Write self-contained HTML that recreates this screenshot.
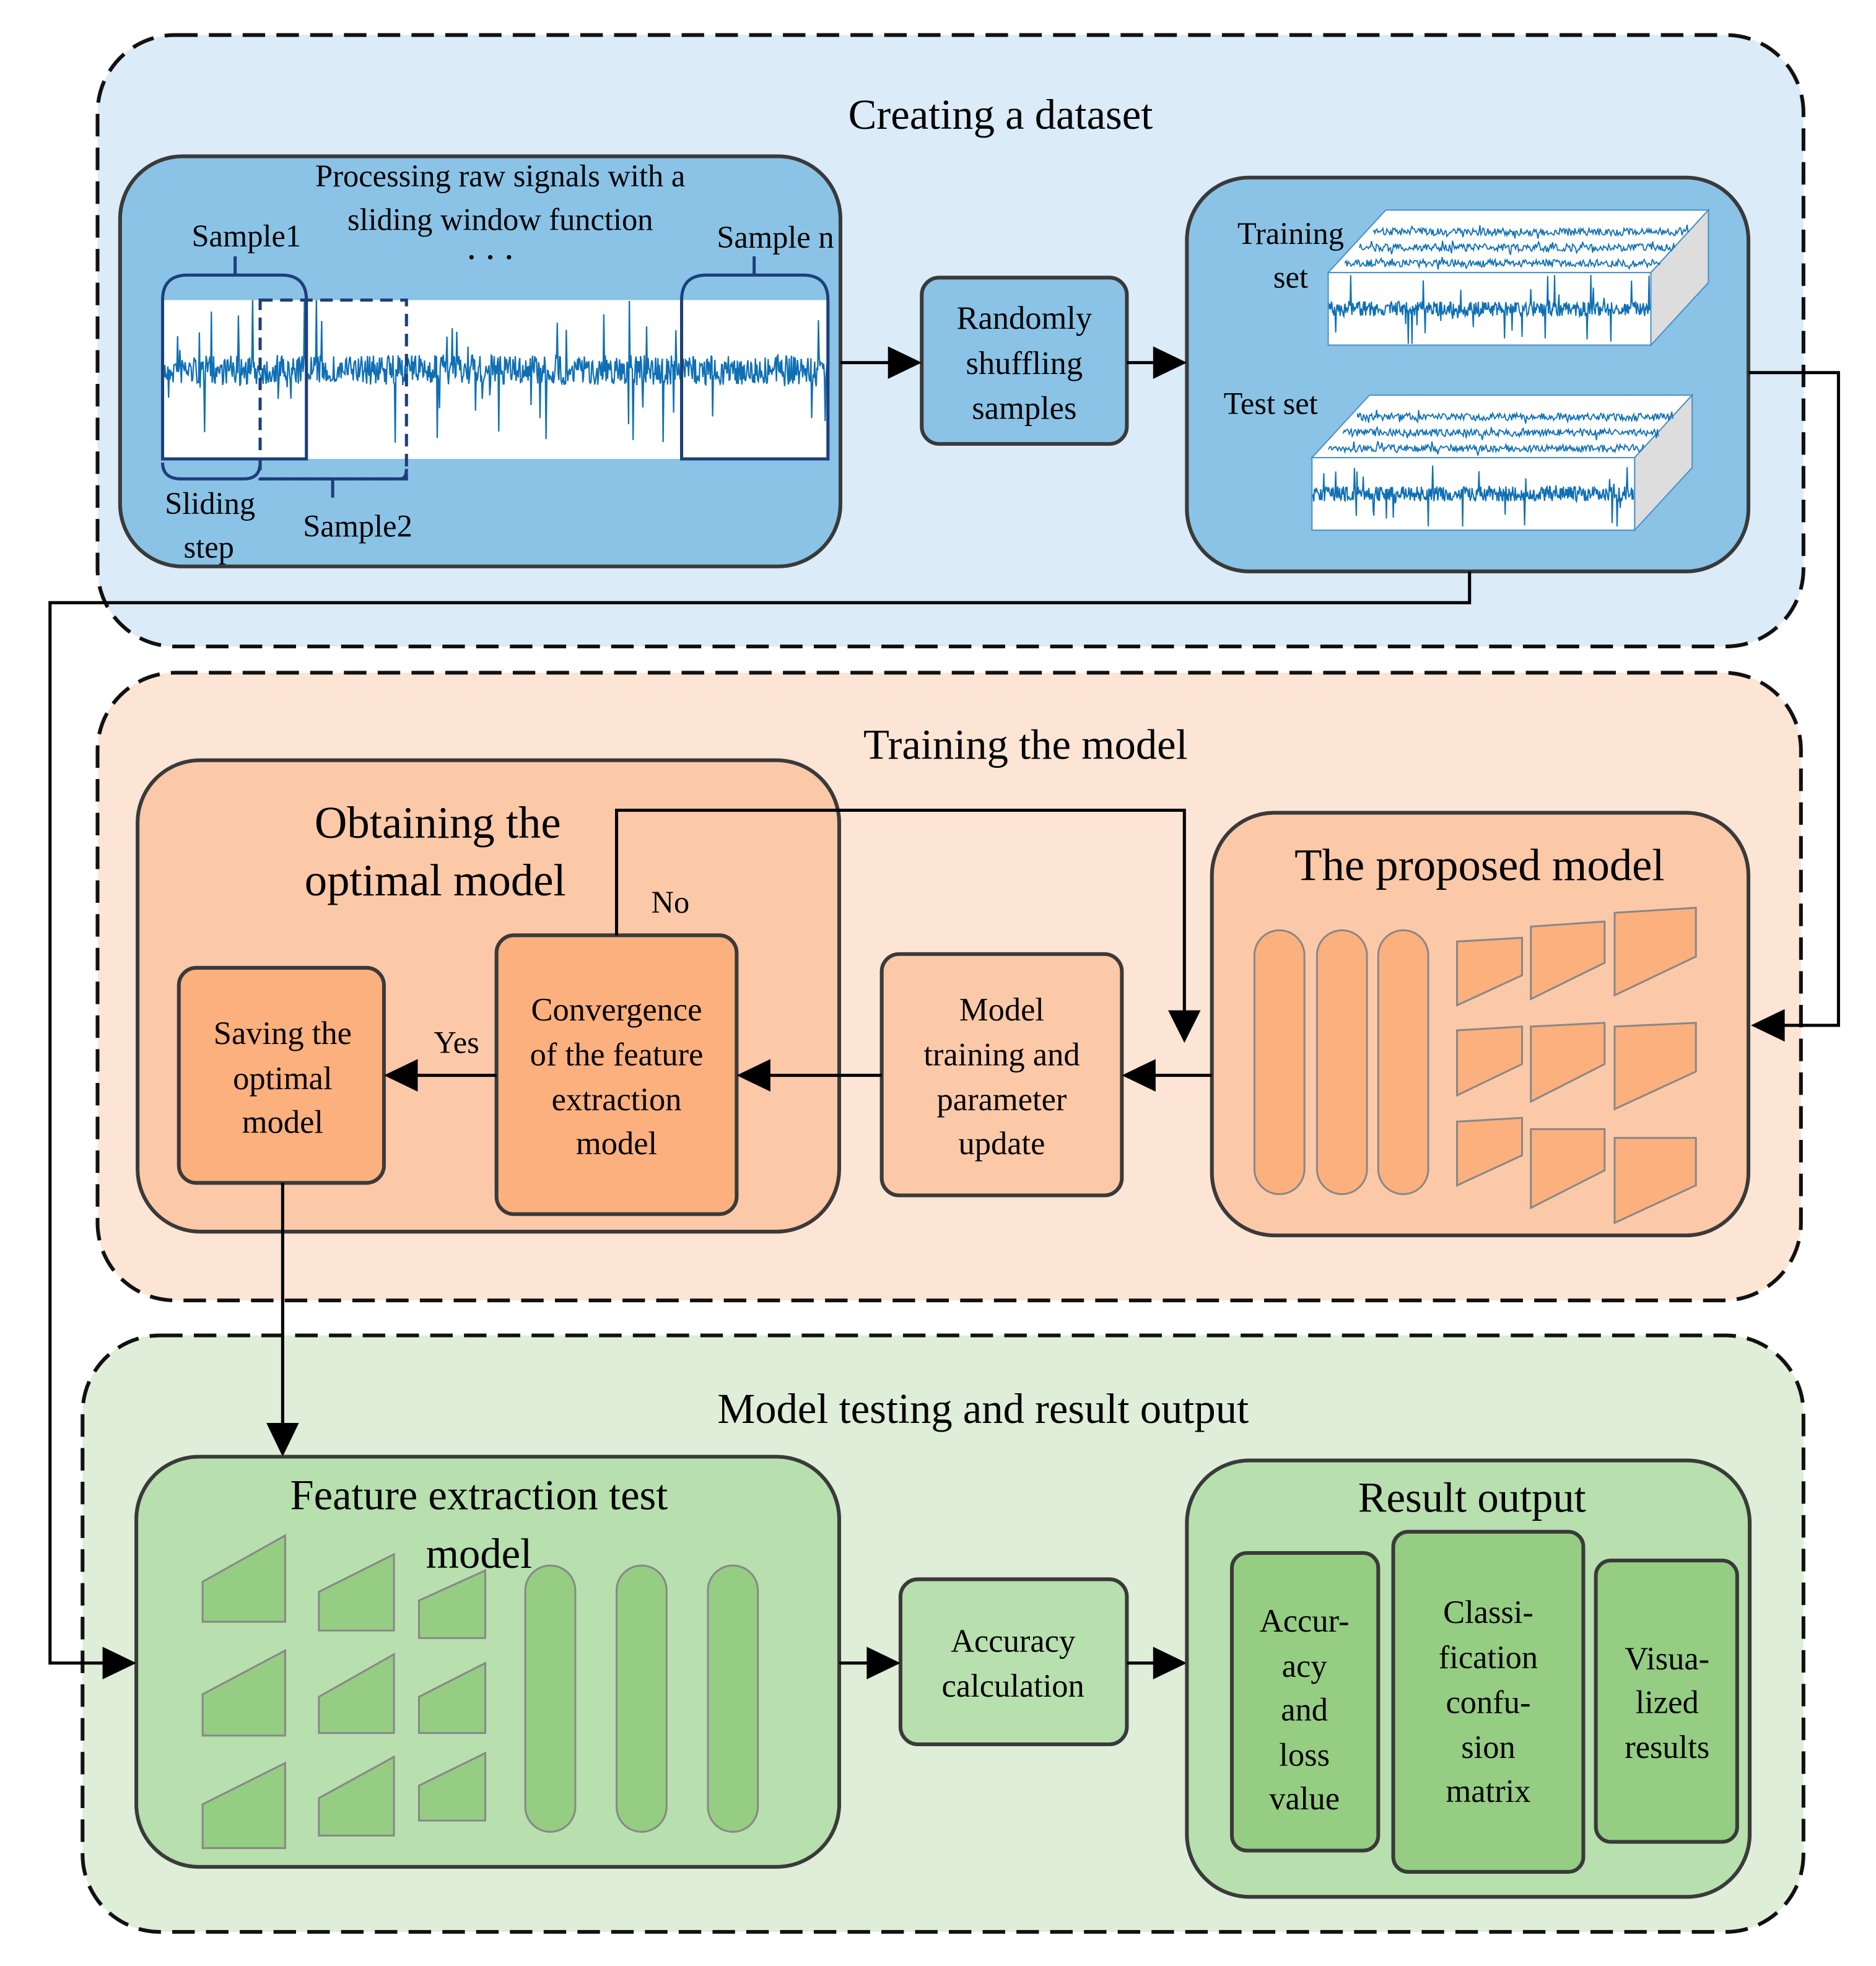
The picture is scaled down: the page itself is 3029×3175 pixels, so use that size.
<!DOCTYPE html>
<html><head><meta charset="utf-8"><style>
html,body{margin:0;padding:0;background:#fff}
svg{display:block}
text{font-family:"Liberation Serif",serif;fill:#000}
</style></head><body>
<svg id="s" width="3029" height="3175" viewBox="0 0 1500 1572.3" preserveAspectRatio="none" xmlns="http://www.w3.org/2000/svg">
<defs>
<clipPath id="c1"><rect x="130" y="240" width="532" height="127"/></clipPath>
</defs>
<rect width="1500" height="1573" fill="#fff"/>
<!-- Blue section -->
<rect x="78" y="28" width="1364" height="489" rx="62" fill="#dbebf7" stroke="#111" stroke-width="3" stroke-dasharray="18,9"/>
<text x="800" y="103" font-size="34" text-anchor="middle">Creating a dataset</text>
<rect x="96" y="125" width="576" height="328" rx="50" fill="#8ac3e6" stroke="#3a3a3a" stroke-width="3"/>
<text x="400" y="149" font-size="25" text-anchor="middle">Processing raw signals with a</text>
<text x="400" y="184" font-size="25" text-anchor="middle">sliding window function</text>
<text x="197" y="197" font-size="25" text-anchor="middle">Sample1</text>
<text x="620" y="198" font-size="25" text-anchor="middle">Sample n</text>
<text x="392" y="207" font-size="30" text-anchor="middle">. . .</text>
<rect x="130" y="240" width="532" height="127" fill="#fff"/>
<g id="sig" clip-path="url(#c1)"></g>
<path d="M130,367 V240 Q130,220 150,220 H225 Q245,220 245,240 V367 Z" fill="none" stroke="#1d3f7a" stroke-width="2.5"/>
<line x1="188" y1="220" x2="188" y2="205" stroke="#1d3f7a" stroke-width="2.5"/>
<rect x="208" y="240" width="117" height="143" fill="none" stroke="#1d3f7a" stroke-width="2.5" stroke-dasharray="10,6"/>
<path d="M545,367 V240 Q545,220 565,220 H642 Q662,220 662,240 V367 Z" fill="none" stroke="#1d3f7a" stroke-width="2.5"/>
<line x1="603" y1="220" x2="603" y2="205" stroke="#1d3f7a" stroke-width="2.5"/>
<path d="M130,370 Q130,383 145,383 H195 Q208,383 208,370" fill="none" stroke="#1d3f7a" stroke-width="2.5"/>
<path d="M208,383 H320 Q325,383 325,375" fill="none" stroke="#1d3f7a" stroke-width="2.5"/>
<line x1="266" y1="383" x2="266" y2="398" stroke="#1d3f7a" stroke-width="2.5"/>
<text x="168" y="411" font-size="25" text-anchor="middle">Sliding</text>
<text x="167" y="446" font-size="25" text-anchor="middle">step</text>
<text x="286" y="429" font-size="25" text-anchor="middle">Sample2</text>
<rect x="737" y="222" width="164" height="133" rx="14" fill="#8ac3e6" stroke="#3a3a3a" stroke-width="3"/>
<text x="819" y="263" font-size="26" text-anchor="middle">Randomly</text>
<text x="819" y="299" font-size="26" text-anchor="middle">shuffling</text>
<text x="819" y="335" font-size="26" text-anchor="middle">samples</text>
<rect x="949" y="142" width="449" height="315" rx="50" fill="#8ac3e6" stroke="#3a3a3a" stroke-width="3"/>
<text x="1032" y="195" font-size="25" text-anchor="middle">Training</text>
<text x="1032" y="230" font-size="25" text-anchor="middle">set</text>
<text x="1016" y="331" font-size="25" text-anchor="middle">Test set</text>
<g id="cubes"></g>
<line x1="672" y1="290" x2="712" y2="290" stroke="#000" stroke-width="2.5"/><polygon points="737,290 710,277 710,303"/>
<line x1="901" y1="290" x2="925" y2="290" stroke="#000" stroke-width="2.5"/><polygon points="949,290 922,277 922,303"/>

<!-- Orange -->
<rect x="78" y="538" width="1362" height="502" rx="62" fill="#fde5d5" stroke="#111" stroke-width="3" stroke-dasharray="18,9"/>
<text x="820" y="607" font-size="34" text-anchor="middle">Training the model</text>
<rect x="110" y="608" width="561" height="377" rx="50" fill="#fcc9a8" stroke="#3a3a3a" stroke-width="3"/>
<text x="350" y="670" font-size="36" text-anchor="middle">Obtaining the</text>
<text x="348" y="716" font-size="36" text-anchor="middle">optimal model</text>
<rect x="143" y="774" width="164" height="172" rx="14" fill="#fbb07e" stroke="#3a3a3a" stroke-width="3"/>
<text x="226" y="835" font-size="26" text-anchor="middle">Saving the</text>
<text x="226" y="871" font-size="26" text-anchor="middle">optimal</text>
<text x="226" y="906" font-size="26" text-anchor="middle">model</text>
<rect x="397" y="748" width="192" height="223" rx="14" fill="#fbb07e" stroke="#3a3a3a" stroke-width="3"/>
<text x="493" y="816" font-size="26" text-anchor="middle">Convergence</text>
<text x="493" y="852" font-size="26" text-anchor="middle">of the feature</text>
<text x="493" y="888" font-size="26" text-anchor="middle">extraction</text>
<text x="493" y="923" font-size="26" text-anchor="middle">model</text>
<rect x="705" y="763" width="192" height="193" rx="14" fill="#fcc9a8" stroke="#3a3a3a" stroke-width="3"/>
<text x="801" y="816" font-size="26" text-anchor="middle">Model</text>
<text x="801" y="852" font-size="26" text-anchor="middle">training and</text>
<text x="801" y="888" font-size="26" text-anchor="middle">parameter</text>
<text x="801" y="923" font-size="26" text-anchor="middle">update</text>
<rect x="969" y="650" width="429" height="338" rx="50" fill="#fcc9a8" stroke="#3a3a3a" stroke-width="3"/>
<text x="1183" y="704" font-size="36" text-anchor="middle">The proposed model</text>
<g fill="#fbb07e" stroke="#888" stroke-width="1.5">
<rect x="1003" y="744" width="40" height="211" rx="20"/>
<rect x="1053" y="744" width="40" height="211" rx="20"/>
<rect x="1102" y="744" width="40" height="211" rx="20"/>
<polygon points="1165,753 1217,750 1217,780 1165,804"/>
<polygon points="1224,741 1283,737 1283,770 1224,799"/>
<polygon points="1291,730 1356,726 1356,765 1291,796"/>
<polygon points="1165,824 1217,821 1217,851 1165,876"/>
<polygon points="1224,821 1283,818 1283,851 1224,881"/>
<polygon points="1291,821 1356,818 1356,857 1291,887"/>
<polygon points="1165,897 1217,894 1217,924 1165,948"/>
<polygon points="1224,903 1283,903 1283,936 1224,966"/>
<polygon points="1291,910 1356,910 1356,948 1291,978"/>
</g>
<line x1="969" y1="860" x2="920" y2="860" stroke="#000" stroke-width="2.5"/><polygon points="897,860 924,847 924,873"/>
<line x1="705" y1="860" x2="612" y2="860" stroke="#000" stroke-width="2.5"/><polygon points="589,860 616,847 616,873"/>
<line x1="397" y1="860" x2="330" y2="860" stroke="#000" stroke-width="2.5"/><polygon points="307,860 334,847 334,873"/>
<polyline points="493,748 493,648 947,648 947,810" fill="none" stroke="#000" stroke-width="2.5"/><polygon points="947,834 934,808 960,808"/>
<text x="536" y="730" font-size="25" text-anchor="middle">No</text>
<text x="365" y="842" font-size="25" text-anchor="middle">Yes</text>

<!-- Green -->
<rect x="66" y="1068" width="1376" height="477" rx="62" fill="#deeed8" stroke="#111" stroke-width="3" stroke-dasharray="18,9"/>
<text x="786" y="1138" font-size="34" text-anchor="middle">Model testing and result output</text>
<line x1="226" y1="946" x2="226" y2="1140" stroke="#000" stroke-width="2.5"/><polygon points="226,1165 213,1138 239,1138"/>
<rect x="109" y="1165" width="562" height="328" rx="50" fill="#b8dfae" stroke="#3a3a3a" stroke-width="3"/>
<text x="383" y="1207" font-size="34" text-anchor="middle">Feature extraction test</text>
<text x="383" y="1254" font-size="34" text-anchor="middle">model</text>
<g fill="#95cd83" stroke="#888" stroke-width="1.5">
<rect x="420" y="1252" width="40" height="213" rx="20"/>
<rect x="493" y="1252" width="40" height="213" rx="20"/>
<rect x="566" y="1252" width="40" height="213" rx="20"/>
<polygon points="162,1265 228,1228 228,1297 162,1297"/>
<polygon points="255,1273 315,1243 315,1304 255,1304"/>
<polygon points="335,1280 388,1256 388,1310 335,1310"/>
<polygon points="162,1355 228,1320 228,1388 162,1388"/>
<polygon points="255,1357 315,1323 315,1386 255,1386"/>
<polygon points="335,1357 388,1330 388,1386 335,1386"/>
<polygon points="162,1443 228,1410 228,1478 162,1478"/>
<polygon points="255,1438 315,1405 315,1468 255,1468"/>
<polygon points="335,1428 388,1402 388,1456 335,1456"/>
</g>
<rect x="720" y="1263" width="181" height="132" rx="14" fill="#b8dfae" stroke="#3a3a3a" stroke-width="3"/>
<text x="810" y="1321" font-size="26" text-anchor="middle">Accuracy</text>
<text x="810" y="1357" font-size="26" text-anchor="middle">calculation</text>
<line x1="671" y1="1330" x2="696" y2="1330" stroke="#000" stroke-width="2.5"/><polygon points="720,1330 693,1317 693,1343"/>
<line x1="901" y1="1330" x2="925" y2="1330" stroke="#000" stroke-width="2.5"/><polygon points="949,1330 922,1317 922,1343"/>
<rect x="949" y="1168" width="450" height="349" rx="50" fill="#b8dfae" stroke="#3a3a3a" stroke-width="3"/>
<text x="1177" y="1209" font-size="34" text-anchor="middle">Result output</text>
<rect x="985" y="1242" width="117" height="238" rx="12" fill="#95cd83" stroke="#3a3a3a" stroke-width="3"/>
<rect x="1114" y="1225" width="152" height="272" rx="12" fill="#95cd83" stroke="#3a3a3a" stroke-width="3"/>
<rect x="1276" y="1248" width="113" height="225" rx="12" fill="#95cd83" stroke="#3a3a3a" stroke-width="3"/>
<g font-size="26" text-anchor="middle">
<text x="1043" y="1305">Accur-</text><text x="1043" y="1341">acy</text><text x="1043" y="1376">and</text><text x="1043" y="1412">loss</text><text x="1043" y="1447">value</text>
<text x="1190" y="1298">Classi-</text><text x="1190" y="1334">fication</text><text x="1190" y="1370">confu-</text><text x="1190" y="1406">sion</text><text x="1190" y="1441">matrix</text>
<text x="1333" y="1335">Visua-</text><text x="1333" y="1370">lized</text><text x="1333" y="1406">results</text>
</g>

<!-- long connectors on top -->
<polyline points="1398,298 1470,298 1470,820 1425,820" fill="none" stroke="#000" stroke-width="2.5"/><polygon points="1400,820 1427,807 1427,833"/>
<polyline points="1175,457 1175,482 40,482 40,1330 85,1330" fill="none" stroke="#000" stroke-width="2.5"/><polygon points="109,1330 82,1317 82,1343"/>
</svg>
<script>
(function(){
var ns="http://www.w3.org/2000/svg";
var seed=7;function r(){seed=(seed*16807)%2147483647;return seed/2147483647;}
function wave(g,x0,x1,yc,base,spike,step,sw){
 var d="M"+x0+","+yc;
 for(var x=x0;x<=x1;x+=step){var a=(r()-0.5)*2*base; if(r()<0.06)a=(r()-0.5)*2*spike; d+=" L"+x.toFixed(2)+","+(yc+a).toFixed(1);}
 var p=document.createElementNS(ns,"path");p.setAttribute("d",d);p.setAttribute("fill","none");p.setAttribute("stroke","#0f6fb5");p.setAttribute("stroke-width",sw||"1");g.appendChild(p);
}
var sig=document.getElementById("sig");
wave(sig,130,662,296,12,60,0.6,1.1);
var c=document.getElementById("cubes");
var cid=0;
function cube(x,y,w,h,dx,dy){
 var top=document.createElementNS(ns,"polygon");
 top.setAttribute("points",[x,y,x+dx,y-dy,x+w+dx,y-dy,x+w,y].join(","));top.setAttribute("fill","#fff");top.setAttribute("stroke","#4a90c8");c.appendChild(top);
 var side=document.createElementNS(ns,"polygon");
 side.setAttribute("points",[x+w,y,x+w+dx,y-dy,x+w+dx,y+h-dy,x+w,y+h].join(","));side.setAttribute("fill","#ddd");side.setAttribute("stroke","#4a90c8");c.appendChild(side);
 for(var k=1;k<4;k++){var yy=y-dy*k/4,xx=x+dx*k/4;wave(c,xx+2,xx+w-4,yy+5,3,6,0.8,0.9);}
 var f=document.createElementNS(ns,"rect");f.setAttribute("x",x);f.setAttribute("y",y);f.setAttribute("width",w);f.setAttribute("height",h);f.setAttribute("fill","#fff");f.setAttribute("stroke","#4a90c8");c.appendChild(f);
 var cp=document.createElementNS(ns,"clipPath");cp.setAttribute("id","cc"+cid);var cr=document.createElementNS(ns,"rect");cr.setAttribute("x",x);cr.setAttribute("y",y);cr.setAttribute("width",w);cr.setAttribute("height",h);cp.appendChild(cr);c.appendChild(cp);
 var g=document.createElementNS(ns,"g");g.setAttribute("clip-path","url(#cc"+cid+")");c.appendChild(g);cid++;
 wave(g,x+1,x+w-1,y+h/2,6,28,0.5,1);
}
cube(1062,218,258,58,46,50);
cube(1049,366,258,58,46,50);
})();
</script>
</body></html>
